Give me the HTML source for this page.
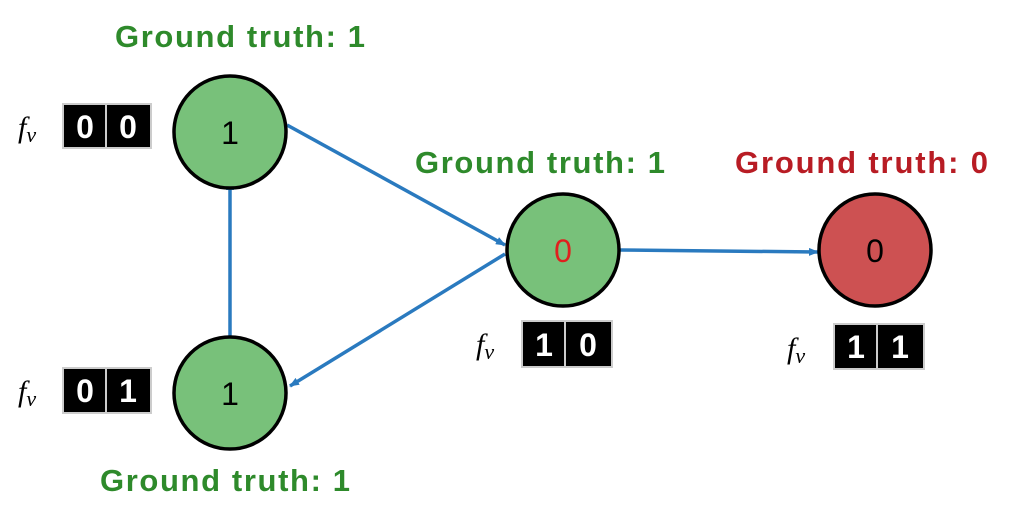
<!DOCTYPE html>
<html><head><style>body{margin:0;background:#fff}svg{display:block}</style></head><body>
<svg width="1025" height="506" viewBox="0 0 1025 506" xmlns="http://www.w3.org/2000/svg">
<defs><marker id="a" markerWidth="10" markerHeight="8" refX="9" refY="4" orient="auto" markerUnits="userSpaceOnUse"><path d="M0,0 L10,4 L0,8 z" fill="#2a7abf"/></marker></defs>
<g stroke="#2a7abf" stroke-width="3.5" fill="none" marker-end="url(#a)">
<line x1="287" y1="125" x2="505" y2="245"/>
<line x1="505" y1="254" x2="290" y2="386"/>
<line x1="230" y1="337" x2="230" y2="181"/>
<line x1="620" y1="250" x2="818" y2="252"/>
</g>
<g stroke="#000" stroke-width="3.5">
<circle cx="230" cy="132" r="56" fill="#78c17a"/>
<circle cx="230" cy="393" r="56" fill="#78c17a"/>
<circle cx="563" cy="250" r="56" fill="#78c17a"/>
<circle cx="875" cy="250" r="56" fill="#cd5152"/>
</g>
<g font-family="Liberation Sans, sans-serif" font-size="32" text-anchor="middle">
<text x="230" y="144">1</text>
<text x="230" y="405">1</text>
<text x="563" y="262" fill="#e0201e">0</text>
<text x="875" y="262">0</text>
</g>
<g font-family="Liberation Sans, sans-serif" font-size="31" font-weight="bold">
<text x="115" y="47" fill="#2e8a2b" textLength="250">Ground truth: 1</text>
<text x="415" y="173" fill="#2e8a2b" textLength="250">Ground truth: 1</text>
<text x="735" y="173" fill="#b81c24" textLength="253">Ground truth: 0</text>
<text x="100" y="491" fill="#2e8a2b" textLength="250">Ground truth: 1</text>
</g>
<g>
<rect x="62" y="103" width="90" height="46" fill="#ccc"/>
<rect x="64" y="105" width="41" height="42" fill="#000"/><rect x="107" y="105" width="43" height="42" fill="#000"/>
<rect x="62" y="367" width="90" height="47" fill="#ccc"/>
<rect x="64" y="369" width="41" height="43" fill="#000"/><rect x="107" y="369" width="43" height="43" fill="#000"/>
<rect x="521" y="320" width="92" height="48" fill="#ccc"/>
<rect x="523" y="322" width="41" height="44" fill="#000"/><rect x="566" y="322" width="45" height="44" fill="#000"/>
<rect x="833" y="323" width="92" height="47" fill="#ccc"/>
<rect x="835" y="325" width="41" height="43" fill="#000"/><rect x="878" y="325" width="45" height="43" fill="#000"/>
</g>
<g font-family="Liberation Sans, sans-serif" font-size="32" font-weight="bold" fill="#fff" text-anchor="middle">
<text x="85" y="138">0</text><text x="128" y="138">0</text>
<text x="85" y="402">0</text><text x="128" y="402">1</text>
<text x="544" y="356">1</text><text x="588" y="356">0</text>
<text x="856" y="358">1</text><text x="900" y="358">1</text>
</g>
<g font-family="Liberation Serif, serif" font-style="italic" font-size="30">
<text x="18" y="137">f<tspan font-size="22" dy="5">v</tspan></text>
<text x="18" y="401">f<tspan font-size="22" dy="5">v</tspan></text>
<text x="476" y="354">f<tspan font-size="22" dy="5">v</tspan></text>
<text x="787" y="358">f<tspan font-size="22" dy="5">v</tspan></text>
</g>
</svg>
</body></html>
